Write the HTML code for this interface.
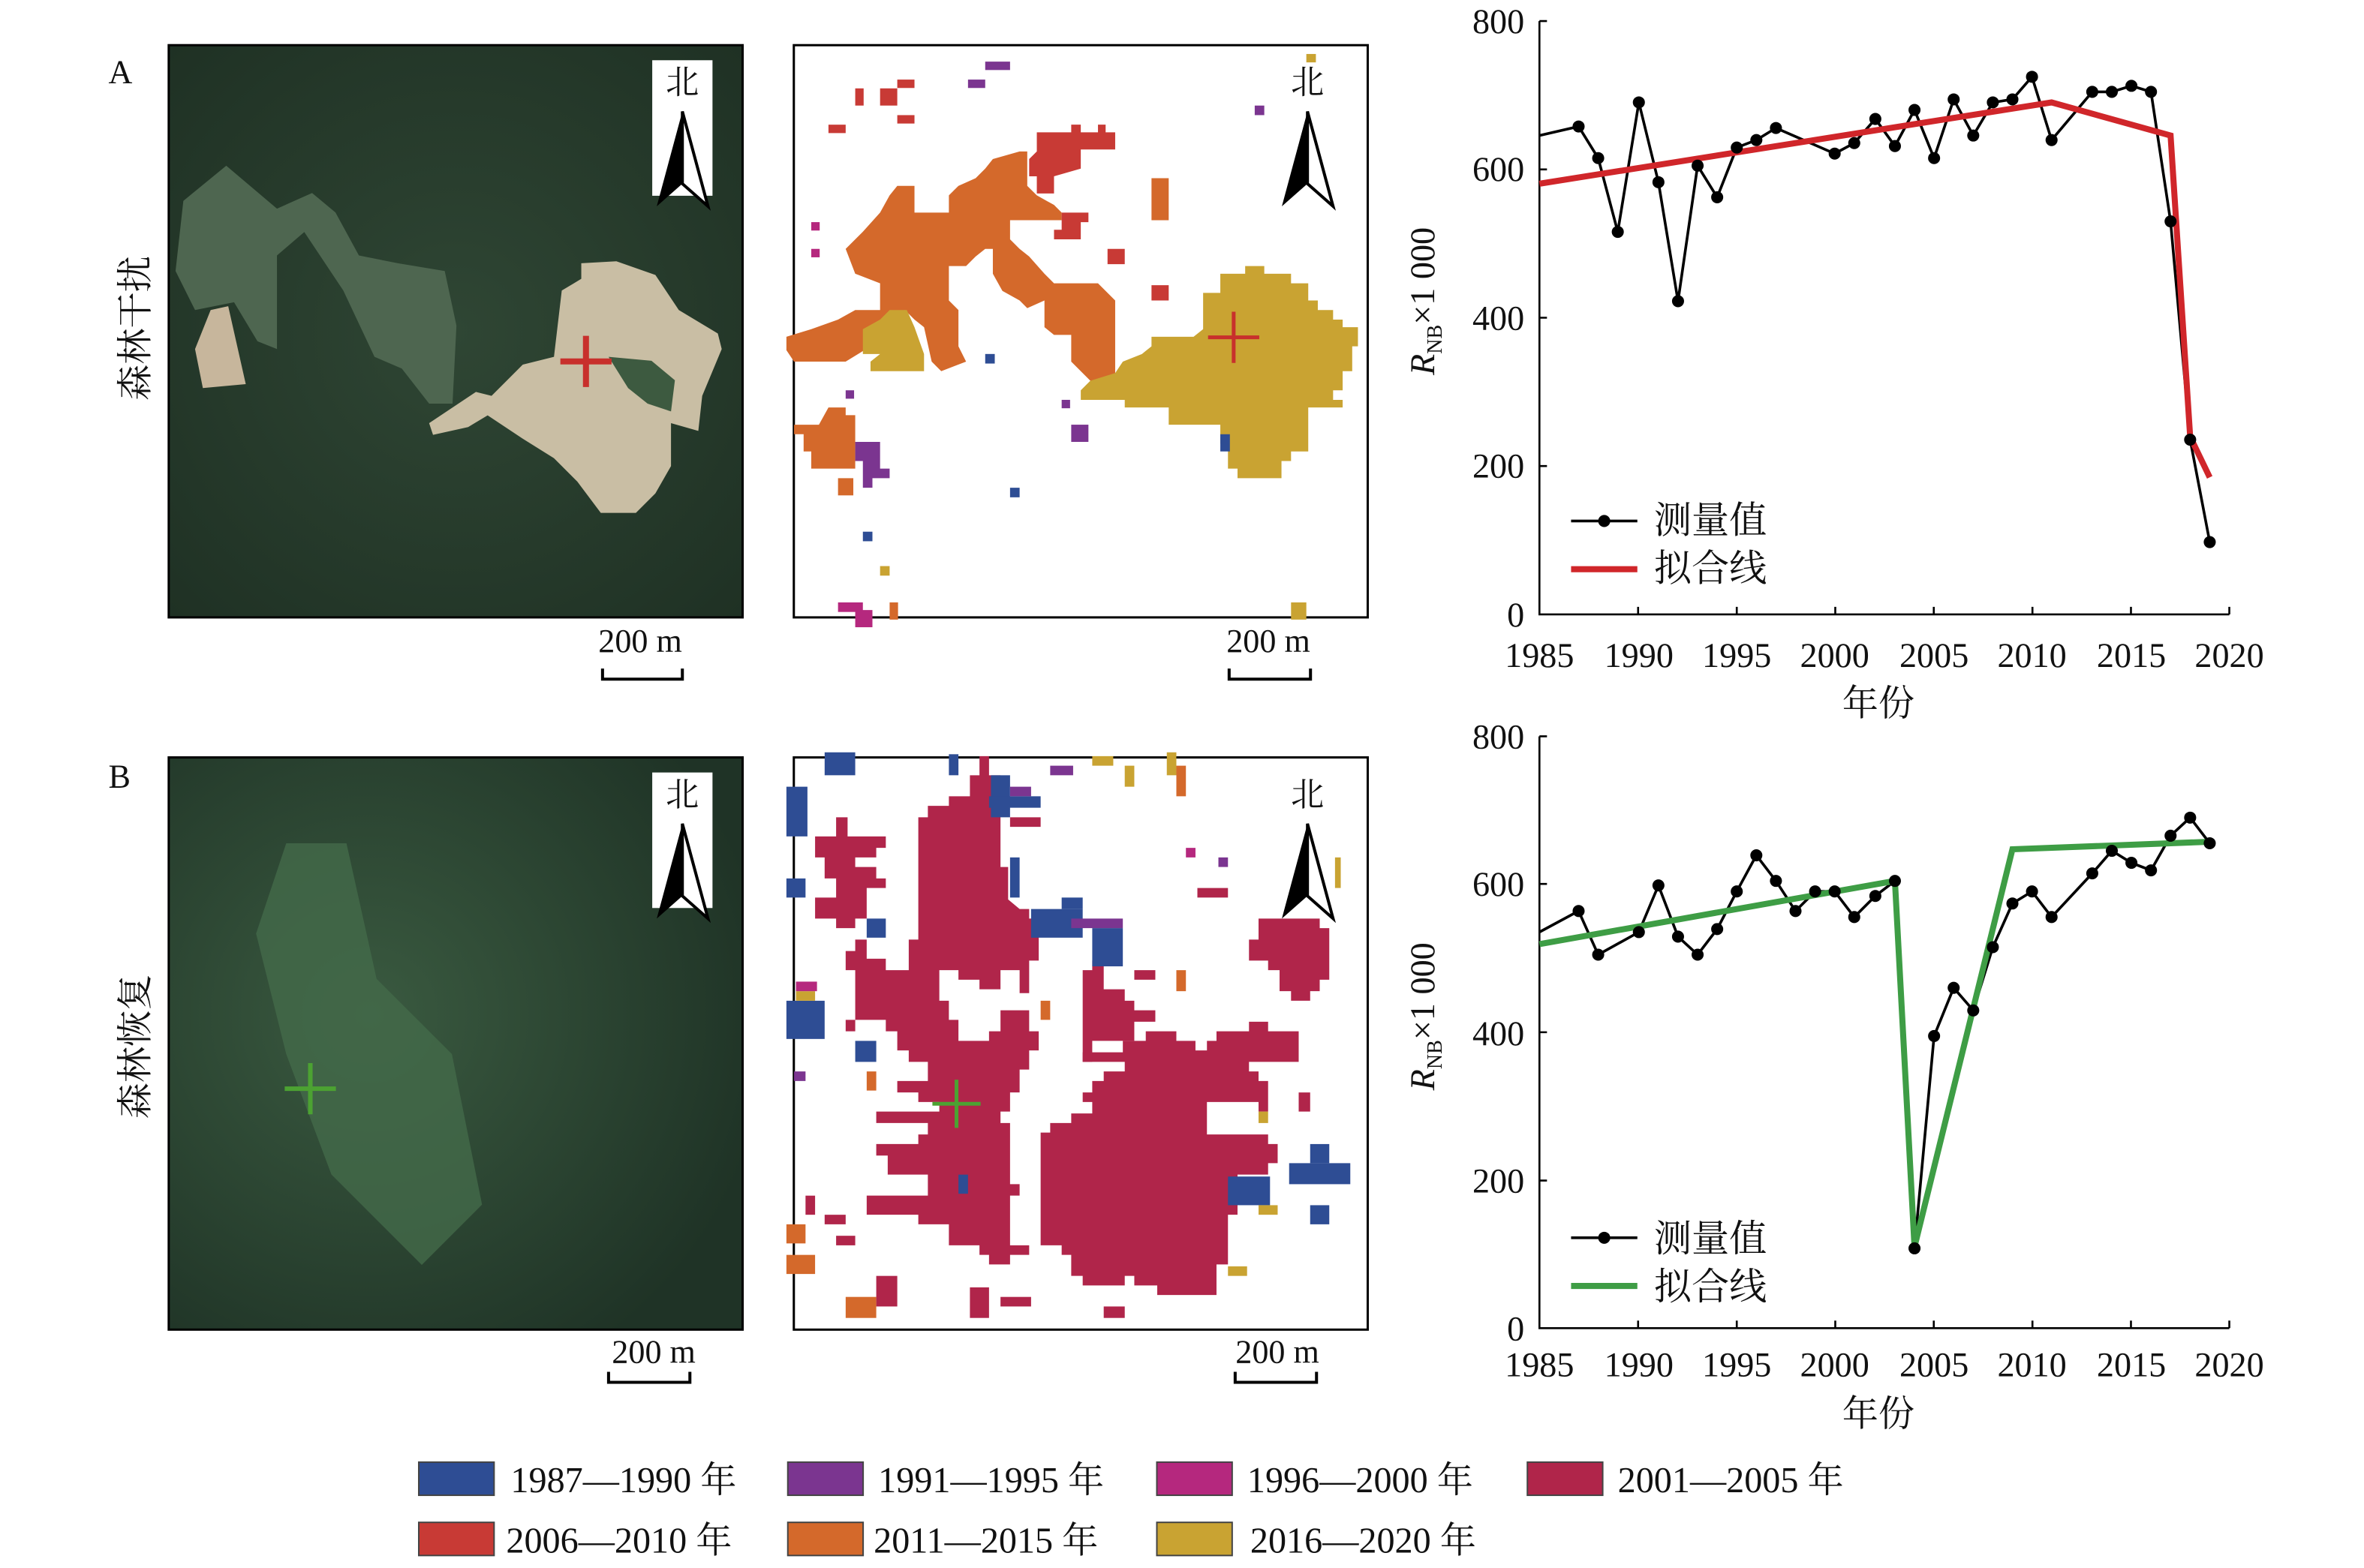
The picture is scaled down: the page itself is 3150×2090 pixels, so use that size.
<!DOCTYPE html>
<html><head><meta charset="utf-8"><style>html,body{margin:0;padding:0;background:#fff}svg{display:block}
text{font-family:"Liberation Serif","Noto Serif CJK SC","Noto Sans CJK SC",serif;fill:#111}</style></head>
<body>
<svg width="3150" height="2090" viewBox="0 0 1569.4 1041.3" xmlns="http://www.w3.org/2000/svg">
<defs>
<radialGradient id="gA" cx="0.5" cy="0.5" r="0.7"><stop offset="0" stop-color="#2f4634"/><stop offset="1" stop-color="#1f3124"/></radialGradient>
<radialGradient id="gB" cx="0.35" cy="0.45" r="0.7"><stop offset="0" stop-color="#3a5a40"/><stop offset="1" stop-color="#1f3326"/></radialGradient>
<g id="north"><text x="0" y="0" font-size="22" text-anchor="middle">北</text>
<polygon points="0,12 -17,75 0,60" fill="#000"/><polygon points="0,12 17,75 0,60" fill="#fff" stroke="#000" stroke-width="2"/></g>
</defs>

<!-- A satellite -->
<rect x="112" y="30" width="381" height="380" fill="url(#gA)" stroke="#000" stroke-width="1.5"/>
<g transform="translate(98.4,24.6) scale(0.259)">
<polygon points="90,420 200,330 330,440 420,400 480,450 540,560 640,580 760,600 790,740 780,940 720,940 650,850 580,820 500,650 400,500 330,560 330,800 280,780 220,680 120,700 70,600" fill="#4e6650"/>
<polygon points="1060,650 1110,620 1110,580 1200,575 1300,610 1360,700 1460,760 1470,800 1420,920 1410,1010 1340,990 1340,1100 1300,1170 1250,1220 1160,1220 1100,1140 1040,1080 960,1030 870,970 820,1000 730,1020 720,990 840,910 880,920 960,840 1040,820" fill="#c9bea4"/>
<polygon points="1180,820 1290,830 1350,880 1340,960 1280,940 1230,900" fill="#3d5a40"/>
<polygon points="160,700 205,690 250,890 140,900 120,800" fill="#c7b69c"/>
</g>
<rect x="433" y="40" width="40" height="90" fill="#fff"/>
<use href="#north" x="453" y="62"/>
<path d="M372,240 h34 M389,223 v34" stroke="#c8302c" stroke-width="4"/>

<!-- A map -->
<rect x="527" y="30" width="381" height="380" fill="#fff" stroke="#000" stroke-width="1.5"/>
<g transform="translate(517,29.5) scale(0.2538)">
<polygon points="20,765 85,745 155,720 200,695 265,695 265,625 200,600 175,535 220,490 265,440 290,395 310,370 355,370 355,440 445,440 445,395 470,370 515,350 540,325 560,300 630,280 650,280 650,370 675,395 720,420 740,440 740,460 605,460 605,510 630,535 655,555 695,600 720,625 835,625 880,670 880,880 815,880 765,830 765,760 720,760 695,740 695,670 650,690 630,670 585,645 560,600 560,535 540,535 515,555 490,580 445,580 445,670 470,695 470,790 490,830 425,855 400,830 380,740 355,720 330,695 240,790 175,830 40,830 20,800" fill="#d4692b"/>
<polygon points="675,230 765,230 765,210 790,210 790,230 835,230 835,210 855,210 855,230 880,230 880,275 790,275 790,325 720,345 720,390 675,390 675,345 655,345 655,300 675,280" fill="#c83a35"/>
<polygon points="740,440 810,440 810,465 790,465 790,510 720,510 720,485 740,485" fill="#c83a35"/>
<polygon points="790,905 815,880 880,860 900,830 950,810 975,790 975,765 1085,765 1110,745 1110,650 1155,650 1155,600 1220,600 1220,580 1270,580 1270,600 1340,600 1340,625 1385,625 1385,670 1410,670 1410,695 1450,695 1450,720 1475,720 1475,740 1515,740 1515,790 1500,790 1500,855 1475,855 1475,905 1450,905 1450,930 1475,930 1475,950 1385,950 1385,1065 1340,1065 1340,1090 1315,1090 1315,1135 1200,1135 1200,1110 1175,1110 1175,1045 1155,1045 1155,995 1020,995 1020,950 905,950 905,930 790,930" fill="#c9a332"/>
<polygon points="220,745 265,720 290,695 335,695 355,740 380,810 380,855 240,855 240,830 265,810 220,810" fill="#c9a332"/>
<polygon points="40,995 105,995 130,950 175,950 175,970 200,970 200,1110 85,1110 85,1065 65,1065 65,1020 40,1020" fill="#d4692b"/>
<polygon points="200,1040 265,1040 265,1110 290,1110 290,1135 245,1135 245,1160 220,1160 220,1090 200,1090" fill="#7b3590"/>
<g fill="#c83a35"><rect x="200" y="115" width="22" height="45"/><rect x="265" y="115" width="45" height="45"/><rect x="310" y="92" width="45" height="22"/><rect x="130" y="210" width="45" height="22"/><rect x="310" y="185" width="45" height="22"/><rect x="975" y="630" width="45" height="40"/><rect x="860" y="535" width="45" height="40"/></g>
<g fill="#7b3590"><rect x="495" y="92" width="45" height="22"/><rect x="540" y="45" width="65" height="22"/><rect x="765" y="995" width="45" height="45"/><rect x="740" y="930" width="22" height="22"/><rect x="175" y="905" width="22" height="22"/><rect x="1245" y="160" width="25" height="25"/></g>
<g fill="#2e4d94"><rect x="605" y="1160" width="25" height="25"/><rect x="220" y="1275" width="25" height="25"/><rect x="540" y="810" width="25" height="25"/><rect x="1155" y="1020" width="25" height="45"/></g>
<g fill="#b5287e"><rect x="155" y="1460" width="65" height="25"/><rect x="200" y="1480" width="45" height="45"/><rect x="85" y="465" width="22" height="22"/><rect x="85" y="535" width="22" height="22"/></g>
<g fill="#c9a332"><rect x="1380" y="25" width="25" height="22"/><rect x="1340" y="1460" width="40" height="45"/><rect x="265" y="1365" width="25" height="25"/></g>
<g fill="#d4692b"><rect x="975" y="350" width="45" height="110"/><rect x="155" y="1135" width="40" height="45"/><rect x="290" y="1460" width="22" height="45"/></g>
</g>
<use href="#north" x="868" y="62"/>
<path d="M802,224 h34 M819,207 v34" stroke="#c8302c" stroke-width="2.5"/>

<!-- B satellite -->
<rect x="112" y="503" width="381" height="380" fill="url(#gB)" stroke="#000" stroke-width="1.5"/>
<polygon points="190,560 230,560 250,650 300,700 320,800 280,840 220,780 190,700 170,620" fill="#436a4a" opacity="0.8"/>
<rect x="433" y="513" width="40" height="90" fill="#fff"/>
<use href="#north" x="453" y="535"/>
<path d="M189,723 h34 M206,706 v34" stroke="#4ca232" stroke-width="3"/>

<!-- B map -->
<rect x="527" y="503" width="381" height="380" fill="#fff" stroke="#000" stroke-width="1.5"/>
<g transform="translate(517,492) scale(0.2538)">
<g fill="#b0254a">
<polygon points="525,40 550,40 550,90 580,90 580,330 600,330 600,415 630,440 655,440 655,465 680,465 680,575 655,575 655,660 630,660 630,600 580,600 580,650 525,650 525,625 470,625 470,600 420,600 420,680 445,680 445,730 470,730 470,785 550,785 550,760 580,760 580,705 655,705 655,760 680,760 680,810 655,810 655,860 630,860 630,920 605,920 605,970 580,970 580,1000 605,1000 605,1160 630,1160 630,1190 605,1190 605,1320 655,1320 655,1345 605,1345 605,1370 550,1370 550,1345 525,1345 525,1320 445,1320 445,1265 365,1265 365,1240 230,1240 230,1190 390,1190 390,1135 285,1135 285,1085 255,1085 255,1055 365,1055 365,1030 390,1030 390,1000 255,1000 255,970 420,970 420,945 365,945 365,920 310,920 310,890 390,890 390,840 340,840 340,810 310,810 310,760 280,760 280,730 175,730 175,760 200,760 200,600 175,600 175,550 200,550 200,520 230,520 230,570 280,570 280,600 340,600 340,520 365,520 365,200 390,200 390,170 445,170 445,145 500,145 500,90 525,90"/>
<polygon points="95,250 150,250 150,200 180,200 180,250 280,250 280,280 255,280 255,305 200,305 200,330 255,330 255,360 280,360 280,385 230,385 230,465 200,465 200,490 150,490 150,465 95,465 95,410 150,410 150,360 120,360 120,305 95,305"/>
<polygon points="685,1025 710,1025 710,1000 765,1000 765,975 820,975 820,945 795,945 795,920 820,920 820,890 850,890 850,865 905,865 905,840 795,840 795,815 900,815 900,785 960,785 960,760 1040,760 1040,785 1090,785 1090,810 1120,810 1120,785 1145,785 1145,760 1230,760 1230,735 1280,735 1280,760 1360,760 1360,840 1230,840 1230,865 1255,865 1255,890 1280,890 1280,970 1255,970 1255,945 1120,945 1120,1030 1280,1030 1280,1055 1305,1055 1305,1105 1280,1105 1280,1135 1200,1135 1200,1240 1175,1240 1175,1370 1145,1370 1145,1450 990,1450 990,1425 930,1425 930,1400 905,1400 905,1425 795,1425 795,1400 765,1400 765,1345 740,1345 740,1320 685,1320"/>
<polygon points="795,600 820,600 820,575 850,575 850,650 905,650 905,680 930,680 930,705 985,705 985,735 930,735 930,785 820,785 820,840 795,840"/>
<polygon points="1255,465 1415,465 1415,490 1440,490 1440,625 1415,625 1415,655 1390,655 1390,680 1340,680 1340,655 1310,655 1310,600 1280,600 1280,575 1230,575 1230,520 1255,520"/>
<rect x="605" y="200" width="80" height="25"/><rect x="1095" y="385" width="80" height="25"/><rect x="930" y="600" width="55" height="25"/><rect x="1360" y="920" width="30" height="50"/><rect x="70" y="1190" width="25" height="50"/><rect x="120" y="1240" width="55" height="25"/><rect x="150" y="1295" width="50" height="25"/><rect x="500" y="1430" width="50" height="80"/><rect x="580" y="1455" width="80" height="25"/><rect x="255" y="1400" width="55" height="80"/><rect x="850" y="1480" width="55" height="30"/>
</g>
<g fill="#2e4d94"><rect x="660" y="440" width="135" height="75"/><rect x="820" y="490" width="80" height="100"/><rect x="555" y="90" width="50" height="110"/><rect x="550" y="145" width="135" height="30"/><rect x="20" y="120" width="55" height="130"/><rect x="20" y="680" width="100" height="100"/><rect x="1335" y="1105" width="160" height="55"/><rect x="1390" y="1055" width="50" height="50"/><rect x="1175" y="1140" width="110" height="75"/><rect x="120" y="30" width="80" height="60"/><rect x="230" y="465" width="50" height="50"/><rect x="200" y="785" width="55" height="55"/><rect x="445" y="35" width="25" height="55"/><rect x="740" y="410" width="55" height="30"/><rect x="20" y="360" width="50" height="50"/><rect x="1390" y="1215" width="50" height="50"/><rect x="605" y="305" width="25" height="105"/><rect x="470" y="1135" width="25" height="50"/></g>
<g fill="#7b3590"><rect x="765" y="465" width="135" height="25"/><rect x="605" y="120" width="55" height="25"/><rect x="710" y="65" width="60" height="25"/><rect x="1150" y="305" width="25" height="25"/><rect x="40" y="865" width="30" height="25"/></g>
<g fill="#c9a332"><rect x="820" y="40" width="55" height="25"/><rect x="905" y="65" width="25" height="55"/><rect x="1015" y="30" width="25" height="60"/><rect x="1255" y="970" width="25" height="30"/><rect x="1255" y="1215" width="50" height="25"/><rect x="1175" y="1375" width="50" height="25"/><rect x="45" y="655" width="50" height="25"/><rect x="1455" y="305" width="15" height="80"/></g>
<g fill="#d4692b"><rect x="1040" y="65" width="25" height="80"/><rect x="685" y="680" width="25" height="50"/><rect x="230" y="865" width="25" height="50"/><rect x="1040" y="600" width="25" height="55"/><rect x="20" y="1265" width="50" height="50"/><rect x="20" y="1345" width="75" height="50"/><rect x="175" y="1455" width="80" height="55"/></g>
<g fill="#b5287e"><rect x="45" y="630" width="55" height="25"/><rect x="1065" y="280" width="25" height="25"/></g>
</g>
<use href="#north" x="868" y="535"/>
<path d="M619,733 h32 M635,717 v32" stroke="#4ca232" stroke-width="2.5"/>

<!-- side labels -->
<text x="72" y="55" font-size="22">A</text>
<text x="72" y="523" font-size="22">B</text>
<text transform="translate(98,218) rotate(-90)" font-size="24" text-anchor="middle">森林干扰</text>
<text transform="translate(98,695) rotate(-90)" font-size="24" text-anchor="middle">森林恢复</text>

<!-- scale bars -->
<g font-size="22" text-anchor="middle">
<text x="425" y="433">200 m</text><path d="M400,444 v7 h53 v-7" fill="none" stroke="#000" stroke-width="2"/>
<text x="842" y="433">200 m</text><path d="M816,444 v7 h54 v-7" fill="none" stroke="#000" stroke-width="2"/>
<text x="434" y="905">200 m</text><path d="M404,911 v7 h54 v-7" fill="none" stroke="#000" stroke-width="2"/>
<text x="848" y="905">200 m</text><path d="M820,911 v7 h54 v-7" fill="none" stroke="#000" stroke-width="2"/>
</g>

<!-- Chart A -->
<g stroke="#000" stroke-width="1.3" fill="none">
<path d="M1022,14 V408 H1480"/>
<path d="M1022,14 h5 M1022,112.5 h5 M1022,211 h5 M1022,309.5 h5"/>
<path d="M1087.5,408 v-5 M1153,408 v-5 M1218.4,408 v-5 M1283.8,408 v-5 M1349.3,408 v-5 M1414.7,408 v-5 M1480,408 v-5"/>
</g>
<g font-size="23" text-anchor="end"><text x="1012" y="22">800</text><text x="1012" y="120">600</text><text x="1012" y="219">400</text><text x="1012" y="317">200</text><text x="1012" y="416">0</text></g>
<g font-size="23" text-anchor="middle"><text x="1022" y="443">1985</text><text x="1088" y="443">1990</text><text x="1153" y="443">1995</text><text x="1218" y="443">2000</text><text x="1284" y="443">2005</text><text x="1349" y="443">2010</text><text x="1415" y="443">2015</text><text x="1480" y="443">2020</text></g>
<text x="1247" y="475" font-size="24" text-anchor="middle">年份</text>
<text transform="translate(952,200) rotate(-90)" font-size="23" text-anchor="middle"><tspan font-style="italic">R</tspan><tspan font-size="14" dy="5">NB</tspan><tspan dy="-5">×1 000</tspan></text>
<polyline points="1022,90 1048,84 1061,105 1074,154 1088,68 1101,121 1114,200 1127,110 1140,131 1153,98 1166,93 1179,85 1218,102 1231,95 1245,79 1258,97 1271,73 1284,105 1297,66 1310,90 1323,68 1336,66 1349,51 1362,93 1389,61 1402,61 1415,57 1428,61 1441,147 1454,292 1467,360" fill="none" stroke="#000" stroke-width="1.8"/>
<polyline points="1022,122 1362,68 1441,90 1454,290 1467,317" fill="none" stroke="#d0262a" stroke-width="4"/>
<g fill="#000"><circle cx="1048" cy="84" r="4"/><circle cx="1061" cy="105" r="4"/><circle cx="1074" cy="154" r="4"/><circle cx="1088" cy="68" r="4"/><circle cx="1101" cy="121" r="4"/><circle cx="1114" cy="200" r="4"/><circle cx="1127" cy="110" r="4"/><circle cx="1140" cy="131" r="4"/><circle cx="1153" cy="98" r="4"/><circle cx="1166" cy="93" r="4"/><circle cx="1179" cy="85" r="4"/><circle cx="1218" cy="102" r="4"/><circle cx="1231" cy="95" r="4"/><circle cx="1245" cy="79" r="4"/><circle cx="1258" cy="97" r="4"/><circle cx="1271" cy="73" r="4"/><circle cx="1284" cy="105" r="4"/><circle cx="1297" cy="66" r="4"/><circle cx="1310" cy="90" r="4"/><circle cx="1323" cy="68" r="4"/><circle cx="1336" cy="66" r="4"/><circle cx="1349" cy="51" r="4"/><circle cx="1362" cy="93" r="4"/><circle cx="1389" cy="61" r="4"/><circle cx="1402" cy="61" r="4"/><circle cx="1415" cy="57" r="4"/><circle cx="1428" cy="61" r="4"/><circle cx="1441" cy="147" r="4"/><circle cx="1454" cy="292" r="4"/><circle cx="1467" cy="360" r="4"/></g>
<path d="M1043,346 h44" stroke="#000" stroke-width="1.8"/><circle cx="1065" cy="346" r="4"/>
<path d="M1043,378 h44" stroke="#d0262a" stroke-width="4"/>
<text x="1098" y="354" font-size="25">测量值</text><text x="1098" y="386" font-size="25">拟合线</text>

<!-- Chart B -->
<g stroke="#000" stroke-width="1.3" fill="none">
<path d="M1022,489 V882 H1480"/>
<path d="M1022,489 h5 M1022,587 h5 M1022,685.5 h5 M1022,784 h5"/>
<path d="M1087.5,882 v-5 M1153,882 v-5 M1218.4,882 v-5 M1283.8,882 v-5 M1349.3,882 v-5 M1414.7,882 v-5 M1480,882 v-5"/>
</g>
<g font-size="23" text-anchor="end"><text x="1012" y="497">800</text><text x="1012" y="595">600</text><text x="1012" y="694">400</text><text x="1012" y="792">200</text><text x="1012" y="890">0</text></g>
<g font-size="23" text-anchor="middle"><text x="1022" y="914">1985</text><text x="1088" y="914">1990</text><text x="1153" y="914">1995</text><text x="1218" y="914">2000</text><text x="1284" y="914">2005</text><text x="1349" y="914">2010</text><text x="1415" y="914">2015</text><text x="1480" y="914">2020</text></g>
<text x="1247" y="947" font-size="24" text-anchor="middle">年份</text>
<text transform="translate(952,675) rotate(-90)" font-size="23" text-anchor="middle"><tspan font-style="italic">R</tspan><tspan font-size="14" dy="5">NB</tspan><tspan dy="-5">×1 000</tspan></text>
<polyline points="1022,619 1048,605 1061,634 1088,619 1101,588 1114,622 1127,634 1140,617 1153,592 1166,568 1179,585 1192,605 1205,592 1218,592 1231,609 1245,595 1258,585 1271,829 1284,688 1297,656 1310,671 1323,629 1336,600 1349,592 1362,609 1389,580 1402,565 1415,573 1428,578 1441,555 1454,543 1467,560" fill="none" stroke="#000" stroke-width="1.8"/>
<polyline points="1022,627 1258,585 1271,828 1336,564 1467,559" fill="none" stroke="#3e9d45" stroke-width="4"/>
<g fill="#000"><circle cx="1048" cy="605" r="4"/><circle cx="1061" cy="634" r="4"/><circle cx="1088" cy="619" r="4"/><circle cx="1101" cy="588" r="4"/><circle cx="1114" cy="622" r="4"/><circle cx="1127" cy="634" r="4"/><circle cx="1140" cy="617" r="4"/><circle cx="1153" cy="592" r="4"/><circle cx="1166" cy="568" r="4"/><circle cx="1179" cy="585" r="4"/><circle cx="1192" cy="605" r="4"/><circle cx="1205" cy="592" r="4"/><circle cx="1218" cy="592" r="4"/><circle cx="1231" cy="609" r="4"/><circle cx="1245" cy="595" r="4"/><circle cx="1258" cy="585" r="4"/><circle cx="1271" cy="829" r="4"/><circle cx="1284" cy="688" r="4"/><circle cx="1297" cy="656" r="4"/><circle cx="1310" cy="671" r="4"/><circle cx="1323" cy="629" r="4"/><circle cx="1336" cy="600" r="4"/><circle cx="1349" cy="592" r="4"/><circle cx="1362" cy="609" r="4"/><circle cx="1389" cy="580" r="4"/><circle cx="1402" cy="565" r="4"/><circle cx="1415" cy="573" r="4"/><circle cx="1428" cy="578" r="4"/><circle cx="1441" cy="555" r="4"/><circle cx="1454" cy="543" r="4"/><circle cx="1467" cy="560" r="4"/></g>
<path d="M1043,822 h44" stroke="#000" stroke-width="1.8"/><circle cx="1065" cy="822" r="4"/>
<path d="M1043,854 h44" stroke="#3e9d45" stroke-width="4"/>
<text x="1098" y="831" font-size="25">测量值</text><text x="1098" y="863" font-size="25">拟合线</text>

<!-- Legend -->
<g stroke="#444" stroke-width="1">
<rect x="278" y="971" width="50" height="22" fill="#2e4d94"/>
<rect x="523" y="971" width="50" height="22" fill="#7b3590"/>
<rect x="768" y="971" width="50" height="22" fill="#b5287e"/>
<rect x="1014" y="971" width="50" height="22" fill="#b0254a"/>
<rect x="278" y="1011" width="50" height="22" fill="#c83a35"/>
<rect x="523" y="1011" width="50" height="22" fill="#d4692b"/>
<rect x="768" y="1011" width="50" height="22" fill="#c9a332"/>
</g>
<g font-size="24">
<text x="339" y="991">1987—1990 年</text>
<text x="583" y="991">1991—1995 年</text>
<text x="828" y="991">1996—2000 年</text>
<text x="1074" y="991">2001—2005 年</text>
<text x="336" y="1031">2006—2010 年</text>
<text x="580" y="1031">2011—2015 年</text>
<text x="830" y="1031">2016—2020 年</text>
</g>
</svg>
</body></html>
